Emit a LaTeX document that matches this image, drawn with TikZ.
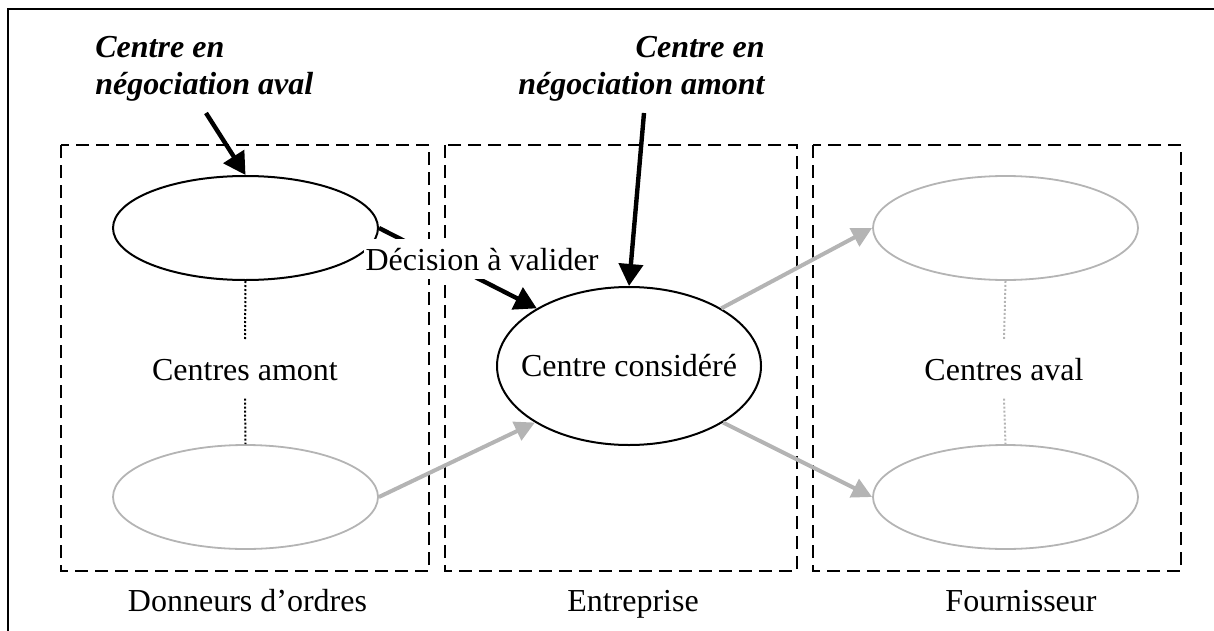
\documentclass[tikz,border=0pt]{standalone}
\usepackage{fontspec}
\setmainfont{Liberation Serif}
\usetikzlibrary{positioning, shapes.geometric, arrows.meta}
\definecolor{grigio}{RGB}{180,180,180}
\tikzset{
  testo/.style={font=\fontsize{16}{18.5}\selectfont, inner sep=0pt},
  grassetto/.style={font=\fontsize{16}{18.5}\selectfont\bfseries\itshape, inner sep=0pt},
  riquadro/.style={line width=1.2pt, dash pattern=on 6.5pt off 3.5pt},
  centro/.style={ellipse, draw, line width=1pt, minimum width=132.5pt, minimum height=52pt, inner sep=0pt},
  centrogrigio/.style={centro, draw=grigio, line width=0.9pt},
  freccia/.style={line width=2.2pt, -{Triangle[length=11pt,width=12pt]}},
  frecciagrigia/.style={draw=grigio, line width=2pt, -{Triangle[length=10pt,width=10pt]}},
  puntini/.style={line width=1pt, dash pattern=on 1pt off 1pt},
}
\begin{document}
\begin{tikzpicture}[x=0.5pt, y=-0.5pt]
        \useasboundingbox (0,0) rectangle (1214,631);
        %cornice
        \draw[line width=0.6pt] (8,631) -- (8,9) -- (1214,9);
        %riquadri
        \draw[riquadro] (61,145) rectangle (429,571);
        \draw[riquadro] (445,145) rectangle (797,571);
        \draw[riquadro] (813,145) rectangle (1181,571);
        %testi in alto
        \node[grassetto, anchor=north west, align=left] (negaval) at (95,36) {Centre en\\négociation aval};
        \node[grassetto, anchor=north east, align=right] (negamont) at (765,36) {Centre en\\négociation amont};
        %centri
        \node[centro] (amontA) at (245.5,228) {};
        \node[centrogrigio] (amontB) at (245.5,497) {};
        \node[centro, minimum width=132pt, minimum height=79pt, label={[testo]center:Centre considéré}] (centre) at (629,366) {};
        \node[centrogrigio] (avalA) at (1005.5,228) {};
        \node[centrogrigio] (avalB) at (1005.5,497) {};
        %etichette e puntini
        \node[testo, anchor=base] (lblamont) at (245,380) {Centres amont};
        \node[testo, anchor=base] (lblaval) at (1004,380) {Centres aval};
        \draw[puntini] (amontA.south) -- ([yshift=9pt]lblamont.north);
        \draw[puntini] ([yshift=-9pt]lblamont.south) -- (amontB.north);
        \draw[puntini, draw=grigio] (avalA.south) -- ([yshift=9pt]lblaval.north);
        \draw[puntini, draw=grigio] ([yshift=-9pt]lblaval.south) -- (avalB.north);
        %frecce
        \coordinate (partaval) at (206,113);
        \coordinate (partamont) at (644,113);
        \draw[freccia] (partaval) -- (amontA.north);
        \draw[freccia] (partamont) -- (centre.north);
        \draw[freccia] (amontA.east) -- (centre.148);
        \draw[frecciagrigia] (amontB.east) -- (centre.211);
        \draw[frecciagrigia] (centre.32) -- (avalA.west);
        \draw[frecciagrigia] (centre.-31) -- (avalB.west);
        %decisione
        \node[testo, fill=white, inner xsep=1pt, inner ysep=4.5pt, anchor=base] (decision) at (482,270) {Décision à valider};
        %legende
        \node[testo, anchor=base] (donneurs) at (247.5,611) {Donneurs d’ordres};
        \node[testo, anchor=base] (entreprise) at (633,611) {Entreprise};
        \node[testo, anchor=base] (fournisseur) at (1021,611) {Fournisseur};
\end{tikzpicture}
\end{document}
